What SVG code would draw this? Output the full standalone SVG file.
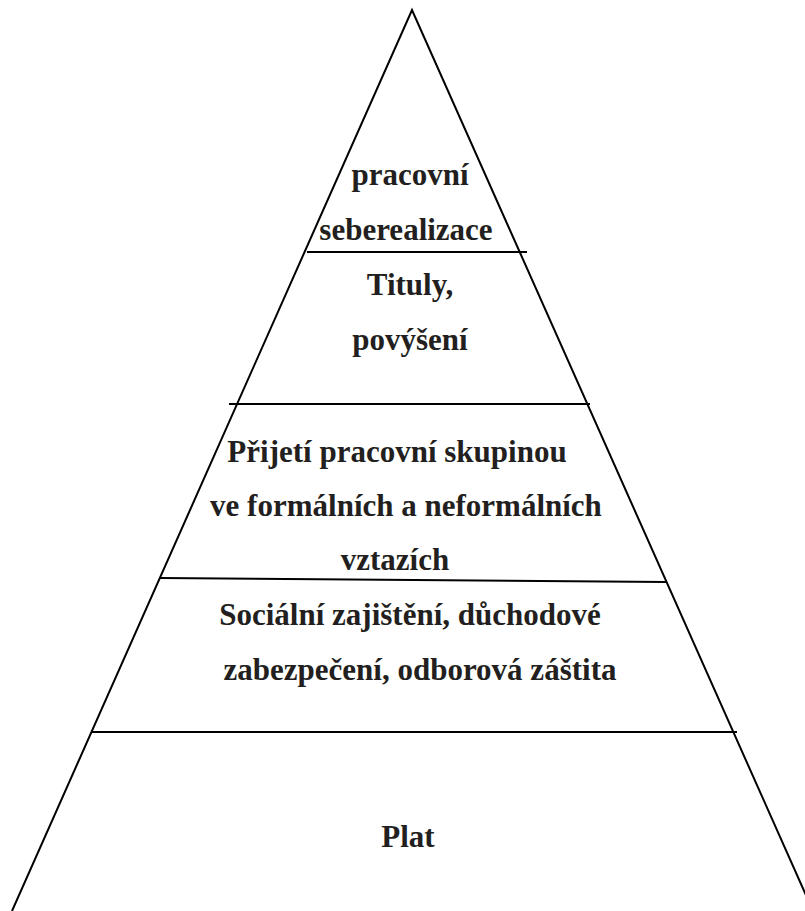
<svg xmlns="http://www.w3.org/2000/svg" width="805" height="911" viewBox="0 0 805 911">
<style>
.l{stroke:#000;stroke-width:2;fill:none}
.t{font-family:"Liberation Serif","Times New Roman",serif;font-weight:bold;font-size:31px;fill:#231f20;text-anchor:middle}
</style>
<rect width="805" height="911" fill="#fff"/>
<g id="connectors">
<path class="l" d="M12,911 L412,10 L813,911"/>
<line class="l" x1="307" y1="252" x2="527" y2="252"/>
<line class="l" x1="229" y1="404" x2="590" y2="404"/>
<line class="l" x1="160" y1="578" x2="666" y2="582"/>
<line class="l" x1="91" y1="732" x2="737" y2="732"/>
</g>
<g id="level5"><text class="t" x="410" y="185">pracovní</text><text class="t" x="406" y="240">seberealizace</text></g>
<g id="level4"><text class="t" x="410" y="295">Tituly,</text><text class="t" x="410" y="350">povýšení</text></g>
<g id="level3"><text class="t" x="397" y="462">Přijetí pracovní skupinou</text><text class="t" x="406" y="516">ve formálních a neformálních</text><text class="t" x="395" y="570">vztazích</text></g>
<g id="level2"><text class="t" x="410" y="625">Sociální zajištění, důchodové</text><text class="t" x="420" y="680">zabezpečení, odborová záštita</text></g>
<g id="level1"><text class="t" x="408" y="847">Plat</text></g>
</svg>
